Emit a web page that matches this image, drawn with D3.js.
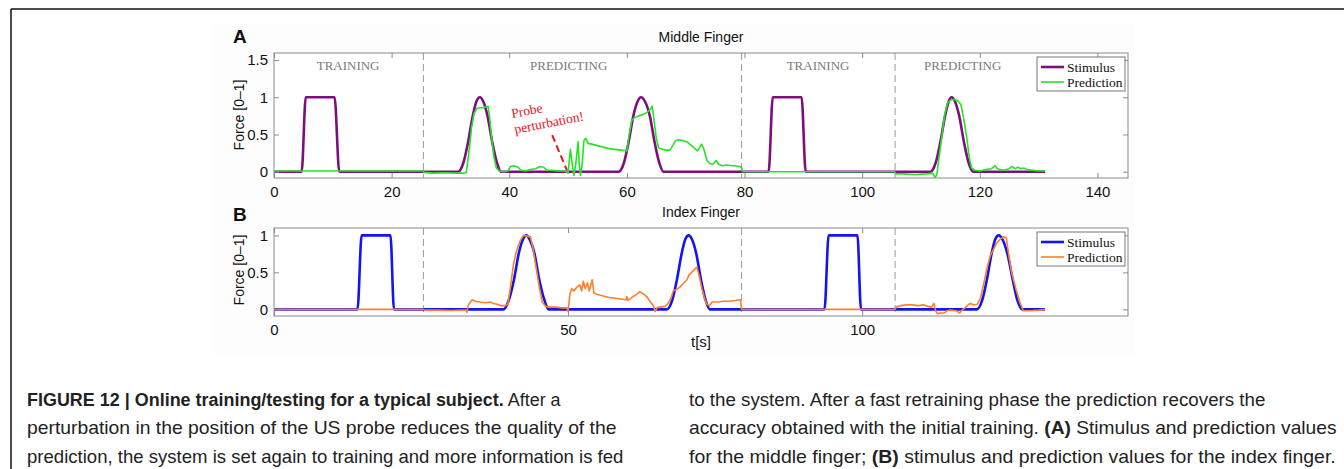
<!DOCTYPE html>
<html><head><meta charset="utf-8">
<script src="https://cdn.jsdelivr.net/npm/d3@7"></script>
<style>
html,body{margin:0;padding:0;background:#fff;}
svg{display:block;}
</style></head>
<body>
<svg id="chart" width="1344" height="469"></svg>
<script>
// ---------------- DATA ----------------
const xTicksA = [0, 20, 40, 60, 80, 100, 120, 140];
const yTicksA = [0, 0.5, 1, 1.5];
const yTickLabelsA = ["0", "0.5", "1", "1.5"];
const xTicksB = [0, 50, 100];
const yTicksB = [0, 0.5, 1];
const yTickLabelsB = ["0", "0.5", "1"];
const phaseBoundaries = [25.4, 79.5, 105.6];
const phaseLabels = ["TRAINING", "PREDICTING", "TRAINING", "PREDICTING"];
const phaseCenters = [12.6, 50.1, 92.5, 117.1];
const seriesNames = ["Stimulus", "Prediction"];

// Panel A – middle finger stimulus
const stimA_t = [0,4.7,5.4,10.3,11.1,
  31.3,32.2,33.0,33.8,34.4,35.0,35.6,36.3,37.1,37.9,38.6,
  58.6,59.5,60.3,61.1,61.8,62.4,63.1,63.9,64.7,65.5,66.2,
  84.1,84.8,89.7,90.4,
  111.6,112.5,113.3,114.1,114.7,115.2,115.8,116.5,117.3,118.1,118.9,
  131.1];
const stimA_v = [0,0,1,1,0,
  0,0.12,0.4,0.75,0.94,1,0.94,0.75,0.4,0.12,0,
  0,0.12,0.4,0.75,0.94,1,0.94,0.75,0.4,0.12,0,
  0,1,1,0,
  0,0.12,0.4,0.75,0.94,1,0.94,0.75,0.4,0.12,0,
  0];
// Panel A – middle finger prediction
const predA_t = [0,25.4,25.5,27,29,31,32.3,32.7,33.2,33.6,34.0,34.5,35.0,35.6,36.0,36.4,36.7,37.0,37.4,37.8,38.3,39.0,39.8,40.2,40.8,41.5,42.0,42.8,43.5,44.5,45.2,45.8,46.4,47.2,48.5,49.5,
  50.0,50.4,50.7,51.0,51.3,51.7,51.9,52.1,52.4,52.7,53.0,53.4,54.0,55,56,57,58,59,60,60.4,60.8,61.2,62,62.8,63.5,64.0,64.3,64.6,65.0,65.4,66,66.7,67.3,67.8,68.3,68.8,69.5,70.2,71.0,71.7,72.0,72.4,72.7,73.1,73.6,74.1,74.6,75.2,75.6,76.2,77,78,79.2,79.5,79.7,
  85,90,95,100,105.5,105.7,107,109,111,112,112.4,112.7,113.0,113.5,114.0,114.5,115.0,115.6,116.2,116.8,117.3,117.8,118.2,118.6,119.2,120,121,122,122.6,123.0,124,125,125.5,126,126.5,127,127.5,128,129,130,131.1];
const predA_v = [0.01,0.01,-0.01,-0.02,-0.015,-0.02,-0.02,-0.01,0.3,0.6,0.78,0.85,0.86,0.86,0.87,0.88,0.7,0.45,0.2,0.05,0.01,0.0,0.01,0.07,0.08,0.06,0.02,0.01,0.03,0.04,0.07,0.06,0.02,0.02,0.01,0.01,
  -0.02,0.3,0.1,-0.05,0.1,0.4,0.1,-0.05,0.1,0.42,0.45,0.38,0.37,0.35,0.33,0.31,0.30,0.29,0.28,0.5,0.68,0.72,0.75,0.77,0.8,0.84,0.88,0.7,0.45,0.32,0.3,0.29,0.29,0.35,0.42,0.43,0.42,0.4,0.35,0.3,0.28,0.33,0.37,0.3,0.15,0.11,0.1,0.15,0.1,0.08,0.09,0.08,0.07,0.05,0.0,
  0,0,0,0,0,-0.03,-0.03,-0.04,-0.03,-0.02,-0.08,-0.04,0.15,0.45,0.75,0.92,0.96,0.97,0.96,0.9,0.7,0.45,0.2,0.05,0.02,0.01,0.03,0.04,0.08,0.04,0.02,0.04,0.07,0.04,0.06,0.04,0.05,0.03,0.02,0.01,0.01];

// Panel B – index finger stimulus
const stimB_t = [0,14.2,14.9,19.8,20.4,
  39.0,39.9,40.8,41.6,42.3,42.9,43.5,44.3,45.1,46.0,46.7,
  66.8,67.7,68.5,69.3,69.9,70.5,71.1,71.8,72.6,73.4,74.1,
  93.6,94.3,99.2,99.8,
  119.5,120.4,121.2,122.0,122.6,123.2,123.9,124.7,125.6,126.4,127.2,
  131.1];
const stimB_v = [0,0,1,1,0,
  0,0.12,0.4,0.75,0.94,1,0.94,0.75,0.4,0.12,0,
  0,0.12,0.4,0.75,0.94,1,0.94,0.75,0.4,0.12,0,
  0,1,1,0,
  0,0.12,0.4,0.75,0.94,1,0.94,0.75,0.4,0.12,0,
  0];
// Panel B – index finger prediction
const predB_t = [0,25.4,25.6,28,30,32,32.6,32.8,33.0,33.4,33.7,34.2,35,36,36.8,37.3,38,38.6,39.4,39.8,40.2,40.7,41.2,41.8,42.4,43.0,43.6,44.1,44.6,45.1,45.6,46.2,47,48,49,49.8,
  50.0,50.3,50.6,51.0,51.5,52,52.3,52.6,52.9,53.3,53.6,54.1,54.4,55,56,57,58,59,59.9,60.0,60.2,61,61.6,62.2,62.8,63.4,64,64.5,64.8,65.1,65.6,66.5,67,67.5,67.9,68.5,69.0,69.6,70.2,70.6,71.0,71.5,71.9,72.3,72.7,73.2,73.6,74,74.5,75.5,76.5,77.5,78.5,79.3,79.5,
  105.6,105.8,106.5,107.5,108.5,109.5,110.5,111.2,111.8,112.2,112.5,112.8,113.4,113.9,114.4,115,116,116.6,117,117.5,118,118.4,119,119.6,120.1,120.6,121.2,121.8,122.4,122.9,123.5,124.0,124.5,124.9,125.4,125.9,126.3,126.8,127.4,128.5,130,131.1];
const predB_v = [0,0,-0.01,-0.01,-0.015,-0.01,-0.01,-0.04,0.05,0.1,0.13,0.11,0.1,0.09,0.1,0.08,0.07,0.05,0.05,0.08,0.3,0.6,0.78,0.92,1.0,0.99,0.98,0.8,0.55,0.3,0.1,0.04,0.03,0.03,0.02,0.02,
  -0.03,0.2,0.28,0.25,0.3,0.33,0.25,0.38,0.28,0.36,0.25,0.4,0.22,0.2,0.18,0.16,0.15,0.14,0.13,0.17,0.12,0.17,0.2,0.24,0.21,0.17,0.1,0.05,-0.03,0.02,0.03,0.04,0.08,0.15,0.25,0.27,0.3,0.35,0.4,0.47,0.5,0.54,0.57,0.45,0.3,0.15,0.07,0.05,0.1,0.1,0.11,0.11,0.12,0.13,0.0,
  0.0,0.03,0.05,0.06,0.06,0.05,0.06,0.04,0.03,0.08,-0.02,-0.06,-0.05,-0.05,-0.02,-0.01,-0.02,-0.05,-0.01,0.02,0.06,0.08,0.06,0.07,0.15,0.32,0.55,0.73,0.82,0.9,0.95,0.98,0.97,0.75,0.5,0.35,0.23,0.1,-0.02,-0.02,-0.01,0.0];

// annotation
const probeText = ["Probe", "perturbation!"];
const probeArrow = [[47.3, 0.49], [49.8, 0.02]];
const probeTextPos = [40.5, 0.72];

const captionCol1 = [
  [["b","FIGURE 12 | Online training/testing for a typical subject."],["n"," After a"]],
  [["n","perturbation in the position of the US probe reduces the quality of the"]],
  [["n","prediction, the system is set again to training and more information is fed"]]
];
const captionCol2 = [
  [["n","to the system. After a fast retraining phase the prediction recovers the"]],
  [["n","accuracy obtained with the initial training. "],["b","(A)"],["n"," Stimulus and prediction values"]],
  [["n","for the middle finger; "],["b","(B)"],["n"," stimulus and prediction values for the index finger."]]
];

// ---------------- DRAW ----------------
const svg = d3.select("#chart");
const W = 1344, H = 469;
const SANS = "'Liberation Sans', Arial, Helvetica, sans-serif";
const SERIF = "'Liberation Serif', 'Times New Roman', serif";
const AXC = "#8a8a8a";

// faint figure background & frame
svg.append("rect").attr("x",214).attr("y",24).attr("width",920).attr("height",332).attr("fill","#fdfdfd");
svg.append("line").attr("x1",11).attr("x2",W).attr("y1",9).attr("y2",9).attr("stroke","#111").attr("stroke-width",1.5);
svg.append("line").attr("x1",11).attr("x2",11).attr("y1",9).attr("y2",H).attr("stroke","#111").attr("stroke-width",1.5);

const left = 274, right = 1128;
const x = d3.scaleLinear().domain([0, 145.2]).range([left, right]);

function zip(t, v){ return t.map((d,i)=>[d, v[i]]); }

function panel(cfg){
  const y = d3.scaleLinear().domain(cfg.ydom).range([cfg.bottom, cfg.top]);
  const g = svg.append("g");
  g.append("rect").attr("x",left).attr("y",cfg.top).attr("width",right-left).attr("height",cfg.bottom-cfg.top).attr("fill","#fff");
  phaseBoundaries.forEach(b=>{
    g.append("line").attr("x1",x(b)).attr("x2",x(b)).attr("y1",cfg.top).attr("y2",cfg.bottom)
      .attr("stroke","#9a9a9a").attr("stroke-width",1).attr("stroke-dasharray","7,4");
  });
  if (cfg.phaseText){
    phaseLabels.forEach((p,i)=>{
      g.append("text").attr("x",x(phaseCenters[i])).attr("y",cfg.top+17).attr("text-anchor","middle")
        .attr("font-family",SERIF).attr("font-size",13).attr("fill","#7a7a7a").text(p);
    });
  }
  const clipId = "clip"+cfg.id;
  svg.append("clipPath").attr("id",clipId).append("rect").attr("x",left).attr("y",cfg.top).attr("width",right-left).attr("height",cfg.bottom-cfg.top);
  const lineS = d3.line().x(d=>x(d[0])).y(d=>y(d[1])).curve(d3.curveMonotoneX);
  const lineP = d3.line().x(d=>x(d[0])).y(d=>y(d[1]));
  g.append("path").attr("d",lineS(zip(cfg.st, cfg.sv))).attr("fill","none").attr("stroke",cfg.sc).attr("stroke-width",2.6).attr("stroke-linejoin","round").attr("clip-path",`url(#${clipId})`);
  g.append("path").attr("d",lineP(zip(cfg.pt, cfg.pv))).attr("fill","none").attr("stroke",cfg.pc).attr("stroke-width",1.6).attr("stroke-linejoin","round").attr("clip-path",`url(#${clipId})`);

  const axB = d3.axisBottom(x).tickValues(cfg.xt).tickSizeInner(-5).tickSizeOuter(0).tickPadding(8);
  const axT = d3.axisTop(x).tickValues(cfg.xt).tickSizeInner(-5).tickSizeOuter(0).tickFormat("");
  const axL = d3.axisLeft(y).tickValues(cfg.yt).tickFormat((d,i)=>cfg.ytl[i]).tickSizeInner(-5).tickSizeOuter(0).tickPadding(6);
  const axR = d3.axisRight(y).tickValues(cfg.yt).tickSizeInner(-5).tickSizeOuter(0).tickFormat("");
  const gb = g.append("g").attr("transform",`translate(0,${cfg.bottom})`).call(axB);
  const gt = g.append("g").attr("transform",`translate(0,${cfg.top})`).call(axT);
  const gl = g.append("g").attr("transform",`translate(${left},0)`).call(axL);
  const gr = g.append("g").attr("transform",`translate(${right},0)`).call(axR);
  [gb,gt,gl,gr].forEach(a=>{
    a.select(".domain").remove();
    a.selectAll(".tick line").attr("stroke",AXC);
    a.selectAll("text").attr("font-family",SANS).attr("font-size",15).attr("fill","#111");
  });
  g.append("rect").attr("x",left).attr("y",cfg.top).attr("width",right-left).attr("height",cfg.bottom-cfg.top)
    .attr("fill","none").attr("stroke",AXC).attr("stroke-width",1);

  g.append("text").attr("x",701).attr("y",cfg.top-11).attr("text-anchor","middle").attr("font-family",SANS).attr("font-size",14).attr("fill","#111").text(cfg.title);
  g.append("text").attr("x",233).attr("y",cfg.letterY).attr("font-family",SANS).attr("font-weight","bold").attr("font-size",19).attr("fill","#111").text(cfg.letter);
  g.append("text").attr("transform",`translate(244,${cfg.ylabY}) rotate(-90)`).attr("text-anchor","middle").attr("font-family",SANS).attr("font-size",14).attr("fill","#111").text("Force [0\u20131]");

  const lx = 1037, ly = cfg.top+4;
  const lg = g.append("g");
  lg.append("rect").attr("x",lx).attr("y",ly).attr("width",88).attr("height",34).attr("fill","#fff").attr("stroke","#777").attr("stroke-width",1);
  [[cfg.sc,2.6],[cfg.pc,1.6]].forEach((c,i)=>{
    const yy = ly+10+i*15;
    lg.append("line").attr("x1",lx+4).attr("x2",lx+27).attr("y1",yy).attr("y2",yy).attr("stroke",c[0]).attr("stroke-width",c[1]);
    lg.append("text").attr("x",lx+30).attr("y",yy+4.5).attr("font-family",SERIF).attr("font-size",13.5).attr("fill","#111").text(seriesNames[i]);
  });
  return {g, y};
}

const A = panel({id:"A", top:53, bottom:178, ydom:[-0.085,1.595], xt:xTicksA, yt:yTicksA, ytl:yTickLabelsA,
  st:stimA_t, sv:stimA_v, pt:predA_t, pv:predA_v, sc:"#7d0f7d", pc:"#22e622",
  title:"Middle Finger", letter:"A", letterY:43, ylabY:115, phaseText:true});
const B = panel({id:"B", top:228, bottom:316, ydom:[-0.09,1.1], xt:xTicksB, yt:yTicksB, ytl:yTickLabelsB,
  st:stimB_t, sv:stimB_v, pt:predB_t, pv:predB_v, sc:"#1414f0", pc:"#ff7f2a",
  title:"Index Finger", letter:"B", letterY:221, ylabY:270, phaseText:false});

svg.append("text").attr("x",701).attr("y",347).attr("text-anchor","middle").attr("font-family",SANS).attr("font-size",15).attr("fill","#111").text("t[s]");

A.g.append("line").attr("x1",x(probeArrow[0][0])).attr("y1",A.y(probeArrow[0][1])).attr("x2",x(probeArrow[1][0])).attr("y2",A.y(probeArrow[1][1]))
  .attr("stroke","#e8141e").attr("stroke-width",2).attr("stroke-dasharray","7,4");
const pg = A.g.append("g").attr("transform",`translate(${x(probeTextPos[0])},${A.y(probeTextPos[1])}) rotate(-11)`);
probeText.forEach((t,i)=>{
  pg.append("text").attr("x",0).attr("y",i*16).attr("font-family",SERIF).attr("font-size",13.5).attr("fill","#e8141e").text(t);
});

function captionLine(x0, y0, parts, target){
  const t = svg.append("text").attr("x",x0).attr("y",y0).attr("font-family",SANS).attr("font-size",17.5).attr("fill","#222");
  parts.forEach(p=>{
    t.append("tspan").attr("font-weight", p[0]==="b" ? "bold" : "normal").text(p[1]);
  });
  const w = t.node().getComputedTextLength();
  const s = target / w;
  t.attr("transform",`translate(${x0},0) scale(${s},1) translate(${-x0},0)`);
}
const capY = [406, 434.5, 463];
const col1W = [534, 590, 597];
const col2W = [577, 648, 647];
captionCol1.forEach((l,i)=>captionLine(27, capY[i], l, col1W[i]));
captionCol2.forEach((l,i)=>captionLine(689, capY[i], l, col2W[i]));
</script>
</body></html>
